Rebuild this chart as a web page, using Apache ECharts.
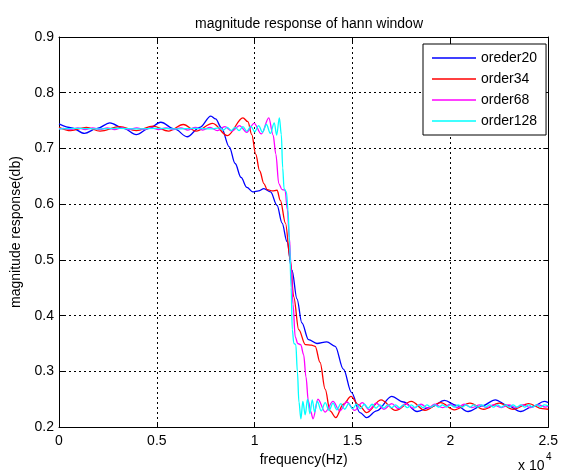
<!DOCTYPE html>
<html>
<head>
<meta charset="utf-8">
<script src="https://cdn.jsdelivr.net/npm/echarts@6.0.0/dist/echarts.min.js"></script>
<style>
  html, body { margin: 0; padding: 0; background: #fff; }
  #chart { width: 561px; height: 472px; }
</style>
</head>
<body>
<div id="chart"></div>
<script>
// frequency in units of 10^4 Hz, magnitude
var order20Freq = [0, 0.065, 0.13, 0.195, 0.26, 0.33, 0.395, 0.46, 0.52, 0.59, 0.655, 0.72, 0.776, 0.80, 0.83, 0.87, 0.90, 0.93, 0.96, 0.99,
    1.02, 1.047, 1.081, 1.114, 1.14, 1.165, 1.19, 1.216, 1.241, 1.275, 1.318, 1.368, 1.411, 1.453, 1.495, 1.538, 1.572, 1.623, 1.70, 1.76,
    1.83, 1.90, 1.97, 2.03, 2.09, 2.16, 2.23, 2.29, 2.36, 2.42, 2.48, 2.5];
var order20Mag = [0.744, 0.737, 0.727, 0.736, 0.746, 0.736, 0.725, 0.736, 0.747, 0.735, 0.721, 0.738, 0.758, 0.753, 0.737, 0.703, 0.673, 0.648, 0.630, 0.622,
    0.624, 0.628, 0.622, 0.598, 0.566, 0.533, 0.482, 0.430, 0.387, 0.357, 0.350, 0.353, 0.345, 0.304, 0.262, 0.226, 0.217, 0.229, 0.255, 0.245,
    0.228, 0.236, 0.248, 0.239, 0.228, 0.238, 0.249, 0.239, 0.228, 0.237, 0.246, 0.244];

var order34Freq = [0, 0.06, 0.14, 0.21, 0.31, 0.395, 0.48, 0.56, 0.635, 0.70, 0.785, 0.86, 0.94, 0.965, 0.985, 1.005, 1.025, 1.047, 1.064, 1.09,
    1.114, 1.131, 1.157, 1.182, 1.199, 1.225, 1.259, 1.29, 1.309, 1.334, 1.36, 1.385, 1.414, 1.453, 1.492, 1.53, 1.572, 1.645, 1.72, 1.80,
    1.87, 1.95, 2.02, 2.10, 2.17, 2.25, 2.32, 2.40, 2.47, 2.5];
var order34Mag = [0.738, 0.732, 0.738, 0.731, 0.739, 0.732, 0.740, 0.731, 0.743, 0.731, 0.745, 0.723, 0.755, 0.748, 0.725, 0.690, 0.660, 0.637, 0.626, 0.624,
    0.625, 0.607, 0.566, 0.500, 0.434, 0.375, 0.348, 0.347, 0.345, 0.316, 0.268, 0.229, 0.217, 0.241, 0.255, 0.240, 0.226, 0.249, 0.230, 0.246,
    0.230, 0.244, 0.231, 0.243, 0.232, 0.243, 0.232, 0.242, 0.233, 0.232];

var order68Freq = [0, 0.022, 0.059, 0.097, 0.134, 0.172, 0.209, 0.247, 0.284, 0.322, 0.359, 0.397, 0.434, 0.472, 0.509, 0.547, 0.584, 0.622, 0.659, 0.697,
    0.734, 0.772, 0.809, 0.847, 0.884, 0.922, 0.959, 0.997, 1.034, 1.072, 1.094, 1.108, 1.123, 1.14, 1.155, 1.167, 1.177, 1.186, 1.196, 1.207,
    1.22, 1.235, 1.25, 1.262, 1.274, 1.286, 1.298, 1.323, 1.36, 1.40, 1.435, 1.47, 1.51, 1.55, 1.585, 1.62, 1.66, 1.70, 1.735, 1.77,
    1.81, 1.85, 1.885, 1.92, 1.96, 2.00, 2.035, 2.07, 2.11, 2.15, 2.185, 2.22, 2.26, 2.30, 2.335, 2.37, 2.41, 2.45, 2.485, 2.5];
var order68Mag = [0.735, 0.736, 0.734, 0.737, 0.734, 0.737, 0.734, 0.737, 0.734, 0.737, 0.734, 0.737, 0.734, 0.737, 0.734, 0.737, 0.734, 0.737, 0.733, 0.738,
    0.733, 0.738, 0.732, 0.739, 0.731, 0.741, 0.729, 0.745, 0.726, 0.755, 0.724, 0.690, 0.637, 0.626, 0.625, 0.590, 0.540, 0.485, 0.420, 0.362,
    0.350, 0.348, 0.330, 0.290, 0.247, 0.228, 0.215, 0.250, 0.227, 0.246, 0.229, 0.245, 0.230, 0.244, 0.231, 0.243, 0.232, 0.242, 0.233, 0.242,
    0.234, 0.241, 0.234, 0.241, 0.235, 0.241, 0.235, 0.241, 0.235, 0.240, 0.235, 0.240, 0.235, 0.240, 0.235, 0.240, 0.235, 0.240, 0.236, 0.237];

var order128Freq = [0, 0.1, 0.2, 0.3, 0.4, 0.5, 0.6, 0.7, 0.78, 0.82, 0.84, 0.86, 0.88, 0.90, 0.92, 0.94, 0.96, 0.98, 1.00, 1.02,
    1.04, 1.06, 1.08, 1.10, 1.112, 1.126, 1.136, 1.143, 1.150, 1.162, 1.170, 1.178, 1.186, 1.192, 1.200, 1.210, 1.218, 1.226, 1.236, 1.246,
    1.258, 1.270, 1.282, 1.294, 1.306, 1.32, 1.34, 1.36, 1.38, 1.40, 1.42, 1.44, 1.46, 1.48, 1.50, 1.52, 1.54, 1.56, 1.58, 1.60,
    1.62, 1.64, 1.66, 1.68, 1.70, 1.72, 1.74, 1.76, 1.78, 1.80, 1.82, 1.84, 1.86, 1.88, 1.90, 1.92, 1.94, 1.96, 1.98, 2.00,
    2.02, 2.04, 2.06, 2.08, 2.10, 2.12, 2.14, 2.16, 2.18, 2.20, 2.22, 2.24, 2.26, 2.28, 2.30, 2.32, 2.34, 2.36, 2.38, 2.40,
    2.42, 2.44, 2.46, 2.48, 2.50];
var order128Mag = [0.735, 0.736, 0.735, 0.736, 0.735, 0.736, 0.735, 0.736, 0.735, 0.737, 0.733, 0.738, 0.732, 0.738, 0.732, 0.739, 0.731, 0.740, 0.730, 0.741,
    0.729, 0.743, 0.727, 0.746, 0.724, 0.755, 0.725, 0.665, 0.628, 0.622, 0.590, 0.530, 0.450, 0.375, 0.350, 0.348, 0.300, 0.245, 0.215, 0.246,
    0.222, 0.250, 0.224, 0.249, 0.227, 0.246, 0.229, 0.244, 0.230, 0.243, 0.231, 0.242, 0.232, 0.242, 0.233, 0.241, 0.233, 0.241, 0.234, 0.241,
    0.234, 0.240, 0.234, 0.240, 0.235, 0.240, 0.235, 0.240, 0.235, 0.240, 0.235, 0.240, 0.235, 0.240, 0.236, 0.240, 0.236, 0.240, 0.236, 0.240,
    0.236, 0.240, 0.236, 0.240, 0.236, 0.240, 0.236, 0.240, 0.236, 0.240, 0.236, 0.240, 0.236, 0.240, 0.236, 0.240, 0.236, 0.240, 0.236, 0.240,
    0.236, 0.240, 0.236, 0.240, 0.238];

var seriesNames = ['oreder20', 'order34', 'order68', 'order128'];
var seriesColors = ['#0000ff', '#ff0000', '#ff00ff', '#00ffff'];
var xTicks = [0, 0.5, 1, 1.5, 2, 2.5];
var yTicks = [0.2, 0.3, 0.4, 0.5, 0.6, 0.7, 0.8, 0.9];

var FONT = '"Liberation Sans", Arial, sans-serif';

// 把两个数组合成 [x, y] 点
function pairs(xs, ys) {
    var out = [];
    for (var i = 0; i < xs.length; i++) {
        out.push([xs[i], ys[i]]);
    }
    return out;
}

function makeSeries(idx, xs, ys) {
    return {
        name: seriesNames[idx],
        type: 'line',
        data: pairs(xs, ys),
        symbol: 'none',
        smooth: 0.35,
        smoothMonotone: 'x',
        lineStyle: { color: seriesColors[idx], width: 1.3 },
        itemStyle: { color: seriesColors[idx] },
        xAxisIndex: 0,
        yAxisIndex: 0,
        silent: true
    };
}

// 上边和右边的框线（只有刻度，没有标签）
function boxAxis(base, pos) {
    return {
        type: 'value',
        position: pos,
        min: base.min,
        max: base.max,
        interval: base.interval,
        axisLine: { show: true, onZero: false, lineStyle: { color: '#000', width: 1 } },
        axisTick: { show: true, inside: true, length: 5, lineStyle: { color: '#000' } },
        axisLabel: { show: false },
        splitLine: { show: false }
    };
}

var xBase = { min: xTicks[0], max: xTicks[xTicks.length - 1], interval: 0.5 };
var yBase = { min: yTicks[0], max: yTicks[yTicks.length - 1], interval: 0.1 };

var myChart = echarts.init(document.getElementById('chart'), null, { renderer: 'canvas' });

var option = {
    animation: false,
    backgroundColor: '#fff',
    title: {
        text: 'magnitude response of hann window',
        left: 304,
        textAlign: 'center',
        top: 12,
        textStyle: { fontFamily: FONT, fontSize: 14, fontWeight: 'normal', color: '#000' }
    },
    grid: { left: 59, right: 10, top: 37, bottom: 44, containLabel: false },
    legend: {
        orient: 'vertical',
        left: 423,
        top: 44,
        data: seriesNames,
        selectedMode: false,
        icon: 'rect',
        itemWidth: 44,
        itemHeight: 1.5,
        itemGap: 5,
        padding: [6, 9, 6, 9],
        backgroundColor: '#fff',
        borderColor: '#000',
        borderWidth: 1,
        borderRadius: 0,
        textStyle: { fontFamily: FONT, fontSize: 14, color: '#000', lineHeight: 16 }
    },
    xAxis: [{
        type: 'value',
        position: 'bottom',
        min: xBase.min,
        max: xBase.max,
        interval: xBase.interval,
        name: 'frequency(Hz)',
        nameLocation: 'middle',
        nameGap: 25,
        nameTextStyle: { fontFamily: FONT, fontSize: 14, color: '#000' },
        axisLine: { show: true, onZero: false, lineStyle: { color: '#000', width: 1 } },
        axisTick: { show: true, inside: true, length: 5, lineStyle: { color: '#000' } },
        axisLabel: { show: true, margin: 7, color: '#000', fontFamily: FONT, fontSize: 14 },
        splitLine: { show: true, lineStyle: { color: '#000', width: 1, type: [2, 3] } }
    }, boxAxis(xBase, 'top')],
    yAxis: [{
        type: 'value',
        position: 'left',
        min: yBase.min,
        max: yBase.max,
        interval: yBase.interval,
        name: 'magnitude response(db)',
        nameLocation: 'middle',
        nameGap: 35,
        nameTextStyle: { fontFamily: FONT, fontSize: 14, color: '#000' },
        axisLine: { show: true, onZero: false, lineStyle: { color: '#000', width: 1 } },
        axisTick: { show: true, inside: true, length: 5, lineStyle: { color: '#000' } },
        axisLabel: {
            show: true, margin: 5, color: '#000', fontFamily: FONT, fontSize: 14,
            formatter: function (v) { return v.toFixed(1); }
        },
        splitLine: { show: true, lineStyle: { color: '#000', width: 1, type: [2, 3] } }
    }, boxAxis(yBase, 'right')],
    graphic: [
        {
            type: 'text', left: 518, top: 459, silent: true,
            style: { text: 'x 10', fontFamily: FONT, fontSize: 14, fill: '#000' }
        },
        {
            type: 'text', left: 546, top: 452, silent: true,
            style: { text: '4', fontFamily: FONT, fontSize: 10, fill: '#000' }
        }
    ],
    series: [
        makeSeries(0, order20Freq, order20Mag),
        makeSeries(1, order34Freq, order34Mag),
        makeSeries(2, order68Freq, order68Mag),
        makeSeries(3, order128Freq, order128Mag)
    ]
};

myChart.setOption(option);
</script>
</body>
</html>
